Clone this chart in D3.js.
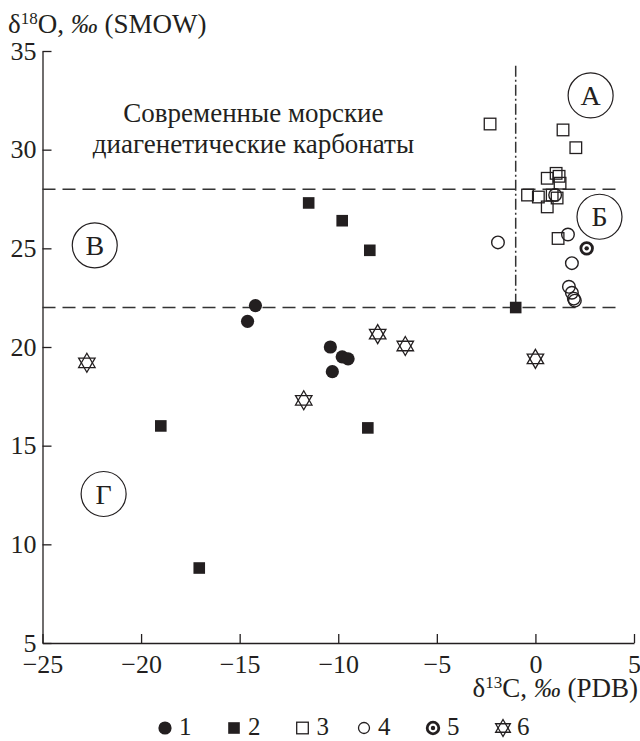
<!DOCTYPE html>
<html>
<head>
<meta charset="utf-8">
<script src="https://cdn.jsdelivr.net/npm/d3@7"></script>
<style>
  body { margin: 0; background: #fff; }
  svg text { font-family: "Liberation Serif", "DejaVu Serif", serif; fill: #231f20; }
</style>
</head>
<body>
<svg id="chart" width="640" height="741"></svg>
<script>
// series 1..6, values as [δ13C, δ18O]
const series1 = [[-14.2, 22.1], [-14.6, 21.3], [-10.4, 20.0], [-9.8, 19.5], [-9.5, 19.4], [-10.3, 18.75]];
const series2 = [[-11.5, 27.3], [-9.8, 26.4], [-8.4, 24.9], [-1.0, 22.0], [-19.0, 16.0], [-8.5, 15.9], [-17.05, 8.8]];
const series3 = [[-2.3, 31.3], [1.4, 31.0], [2.05, 30.1], [0.6, 28.55], [1.05, 28.8], [1.2, 28.65], [1.25, 28.3],
                 [-0.4, 27.7], [0.15, 27.6], [0.6, 27.1], [0.85, 27.7], [1.1, 27.55], [1.15, 25.5]];
const series4 = [[-1.9, 25.3], [1.0, 27.7], [1.65, 25.7], [1.85, 24.25], [1.7, 23.05], [1.85, 22.75], [1.95, 22.45], [2.0, 22.35]];
const series5 = [[2.6, 25.0]];
const series6 = [[-22.75, 19.2], [-11.75, 17.3], [-8.0, 20.65], [-6.6, 20.05], [0.0, 19.4]];

const xTicks = [-25, -20, -15, -10, -5, 0, 5];
const yTicks = [5, 10, 15, 20, 25, 30, 35];
const legendLabels = ["1", "2", "3", "4", "5", "6"];
const zoneLabels = [["А", 2.8, 32.75], ["Б", 3.25, 26.6], ["В", -22.35, 25.15], ["Г", -21.9, 12.55]];
const noteLines = ["Современные морские", "диагенетические карбонаты"];

const ink = "#231f20";
const serif = '"Liberation Serif", "DejaVu Serif", serif';
const svg = d3.select("#chart");
const x = d3.scaleLinear().domain([-25, 5]).range([42.5, 634]);
const y = d3.scaleLinear().domain([5, 35]).range([643, 51]);

// axes
const gx = svg.append("g")
  .attr("transform", "translate(0,643)")
  .call(d3.axisBottom(x).tickValues(xTicks).tickSizeInner(-9).tickSizeOuter(0).tickPadding(12));
const gy = svg.append("g")
  .attr("transform", "translate(42.5,0)")
  .call(d3.axisLeft(y).tickValues(yTicks).tickSizeInner(-9).tickSizeOuter(0).tickPadding(6));
[gx, gy].forEach(g => {
  g.attr("font-family", serif).attr("font-size", 26);
  g.selectAll("path, line").attr("stroke", ink).attr("stroke-width", 1.3);
  g.selectAll("text").attr("fill", ink);
});

// reference lines
const dash = svg.append("g").attr("stroke", "#333").attr("stroke-width", 1.5).attr("fill", "none");
[28, 22].forEach(v => {
  dash.append("line")
    .attr("x1", x(-25)).attr("x2", x(4.2))
    .attr("y1", y(v)).attr("y2", y(v))
    .attr("stroke-dasharray", "13,7");
});
dash.append("line")
  .attr("x1", x(-1)).attr("x2", x(-1))
  .attr("y1", y(34.25)).attr("y2", y(22))
  .attr("stroke-dasharray", "11,3,2,3");

// note text
svg.selectAll("text.note").data(noteLines).enter().append("text")
  .attr("class", "note")
  .attr("x", x(-14.3))
  .attr("y", (d, i) => y(31.4 - i * 1.58))
  .attr("text-anchor", "middle")
  .style("font-size", "27px")
  .text(d => d);

// zone circles
const zones = svg.append("g");
zoneLabels.forEach(([t, cx, cy]) => {
  zones.append("circle").attr("cx", x(cx)).attr("cy", y(cy)).attr("r", 22.5)
    .attr("fill", "none").attr("stroke", ink).attr("stroke-width", 1.2);
  zones.append("text").attr("x", x(cx)).attr("y", y(cy) + 9.5)
    .attr("text-anchor", "middle").style("font-size", "28px").text(t);
});

// marker painters
function star(g, cx, cy, R) {
  const tri = (rot) => d3.range(3).map(k => {
    const a = rot + k * 2 * Math.PI / 3;
    return [cx + R * Math.sin(a), cy - R * Math.cos(a)];
  });
  [0, Math.PI].forEach(rot => {
    g.append("path").attr("d", "M" + tri(rot).join("L") + "Z")
      .attr("fill", "none").attr("stroke", ink).attr("stroke-width", 1.3);
  });
}
const painters = [
  (g, cx, cy) => g.append("circle").attr("cx", cx).attr("cy", cy).attr("r", 6.6).attr("fill", ink),
  (g, cx, cy) => g.append("rect").attr("x", cx - 5.8).attr("y", cy - 5.8).attr("width", 11.6).attr("height", 11.6).attr("fill", ink),
  (g, cx, cy) => g.append("rect").attr("x", cx - 5.8).attr("y", cy - 5.8).attr("width", 11.6).attr("height", 11.6)
                  .attr("fill", "none").attr("stroke", ink).attr("stroke-width", 1.3),
  (g, cx, cy) => g.append("circle").attr("cx", cx).attr("cy", cy).attr("r", 6.3)
                  .attr("fill", "none").attr("stroke", ink).attr("stroke-width", 1.4),
  (g, cx, cy) => {
    g.append("circle").attr("cx", cx).attr("cy", cy).attr("r", 5.8)
      .attr("fill", "none").attr("stroke", ink).attr("stroke-width", 2.8);
    g.append("circle").attr("cx", cx).attr("cy", cy).attr("r", 2.2).attr("fill", ink);
  },
  (g, cx, cy) => star(g, cx, cy, 9.5)
];

const allSeries = [series1, series2, series3, series4, series5, series6];
const marks = svg.append("g");
allSeries.forEach((s, i) => {
  s.forEach(d => painters[i](marks, x(d[0]), y(d[1])));
});

// axis titles
svg.append("text").attr("x", 8).attr("y", 33).style("font-size", "27px")
  .html('δ<tspan dy="-9" style="font-size:17px">18</tspan><tspan dy="9">O, </tspan><tspan font-style="italic">‰</tspan> (SMOW)');
svg.append("text").attr("x", 638).attr("y", 697).attr("text-anchor", "end").style("font-size", "27px")
  .html('δ<tspan dy="-9" style="font-size:17px">13</tspan><tspan dy="9">C, </tspan><tspan font-style="italic">‰</tspan> (PDB)');

// legend
const legendX = [165, 234, 302.5, 364, 433, 503];
const leg = svg.append("g");
legendLabels.forEach((t, i) => {
  if (i === 5) star(leg, legendX[i], 728, 8.5);
  else if (i === 3) leg.append("circle").attr("cx", legendX[i]).attr("cy", 728).attr("r", 5.5)
      .attr("fill", "none").attr("stroke", ink).attr("stroke-width", 1.3);
  else painters[i](leg, legendX[i], 728);
  leg.append("text").attr("x", legendX[i] + 14).attr("y", 735).style("font-size", "25px").text(t);
});
</script>
</body>
</html>
